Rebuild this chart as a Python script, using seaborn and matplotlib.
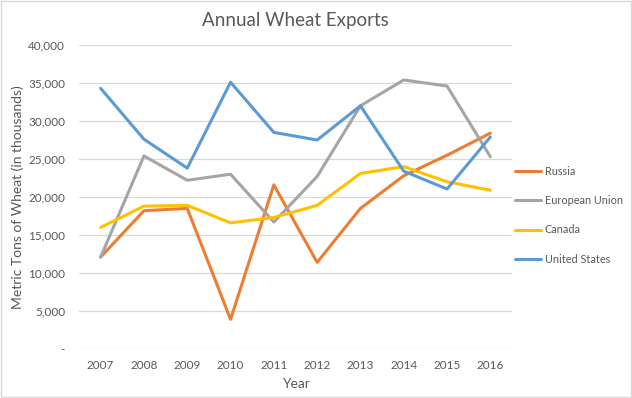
import matplotlib
matplotlib.use("Agg")
import matplotlib.pyplot as plt
import matplotlib.ticker as mticker
import seaborn as sns
import pandas as pd

years = [2007, 2008, 2009, 2010, 2011, 2012, 2013, 2014, 2015, 2016]
russia = [12100, 18200, 18500, 3900, 21600, 11400, 18500, 22800, 25500, 28400]
eu = [12100, 25400, 22200, 23000, 16700, 22700, 32000, 35400, 34600, 25300]
canada = [16000, 18800, 18900, 16600, 17300, 18900, 23100, 24000, 22000, 20900]
usa = [34300, 27600, 23800, 35100, 28500, 27500, 32000, 23400, 21050, 27900]
series_names = ["Russia", "European Union", "Canada", "United States"]
colors = ["#ED7D31", "#A5A5A5", "#FFC000", "#5B9BD5"]

frames = []
for name, vals in zip(series_names, [russia, eu, canada, usa]):
    frames.append(pd.DataFrame({"Year": years, "Exports": vals, "Country": name}))
df = pd.concat(frames, ignore_index=True)

sns.set_style("white")
plt.rcParams["font.family"] = ["Lato", "DejaVu Sans"]
txt = "#595959"

fig = plt.figure(figsize=(6.32, 3.98), dpi=100)
ax = fig.add_axes([79 / 632, 1 - 349 / 398, (512 - 79) / 632, (349 - 45) / 398])

sns.lineplot(data=df, x="Year", y="Exports", hue="Country", hue_order=series_names,
             palette=colors, linewidth=2.2, ax=ax, legend=True)

ax.set_xlim(2006.5, 2016.5)
ax.set_ylim(0, 40000)
ax.set_xticks(years)
ax.set_yticks(range(0, 40001, 5000))
ax.yaxis.set_major_formatter(mticker.FuncFormatter(lambda v, p: "-" if v == 0 else f"{int(v):,}"))
ax.grid(axis="y", color="#D9D9D9", linewidth=0.9)
ax.set_axisbelow(True)
for s in ax.spines.values():
    s.set_visible(False)
ax.tick_params(axis="both", length=0, labelsize=8.5, colors=txt)
ax.tick_params(axis="x", pad=8)
ax.tick_params(axis="y", pad=10)

ax.set_xlabel("Year", fontsize=10, color=txt, labelpad=5)
ax.set_ylabel("Metric Tons of Wheat (in thousands)", fontsize=10, color=txt)
ax.yaxis.set_label_coords((24 - 79) / 433, 0.5)
ax.set_title("Annual Wheat Exports", fontsize=13.5, color=txt, pad=14)

ax.legend(loc="center left", bbox_to_anchor=(0.99, 0.44), frameon=False,
          fontsize=7.8, labelcolor=txt, handlelength=2.4, handletextpad=0.3,
          labelspacing=1.7, borderaxespad=0.3)

fig.patches.append(plt.Rectangle((0.002, 0.002), 0.996, 0.996, transform=fig.transFigure,
                                 fill=False, edgecolor="#D9D9D9", linewidth=1))

fig.savefig("out.png", dpi=100)
